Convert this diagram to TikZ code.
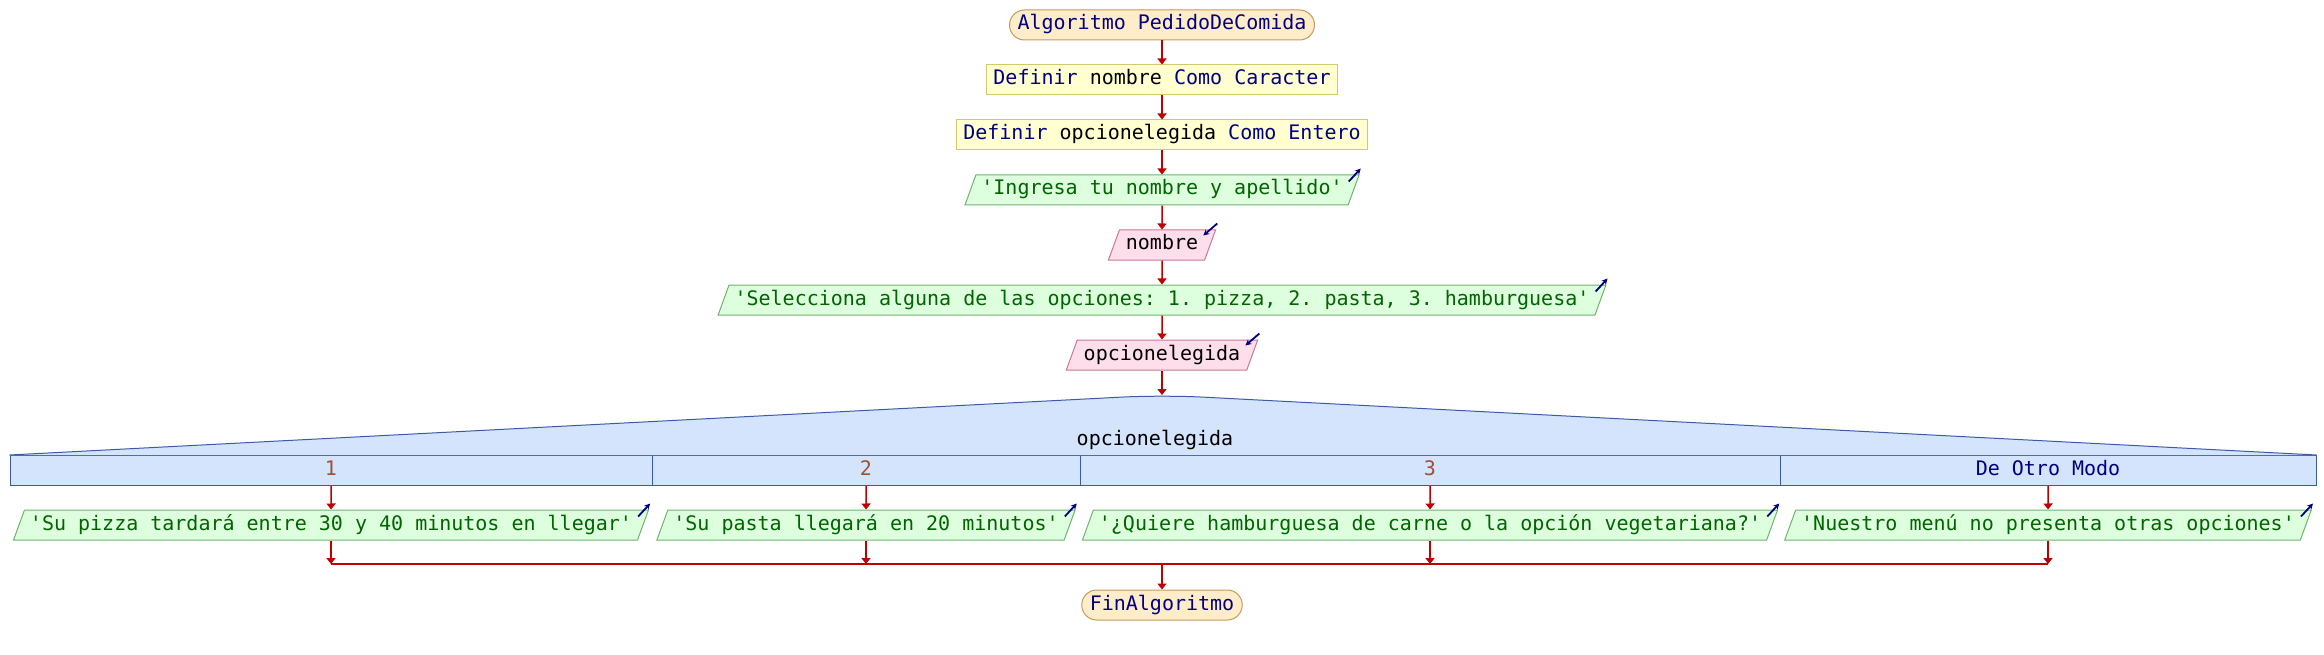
\documentclass[tikz,border=0pt]{standalone}
\usepackage{fontspec}
\setmonofont{DejaVu Sans Mono}
\usetikzlibrary{shapes.geometric,arrows.meta}
\definecolor{navy}{RGB}{0,0,128}
\definecolor{startfill}{RGB}{255,236,200}
\definecolor{startdraw}{RGB}{195,155,95}
\definecolor{deffill}{RGB}{255,255,208}
\definecolor{defdraw}{RGB}{210,200,110}
\definecolor{outfill}{RGB}{222,255,222}
\definecolor{outdraw}{RGB}{110,180,110}
\definecolor{outtext}{RGB}{0,100,0}
\definecolor{infill}{RGB}{255,222,236}
\definecolor{indraw}{RGB}{200,120,150}
\definecolor{casefill}{RGB}{212,228,252}
\definecolor{casedraw}{RGB}{60,90,170}
\definecolor{numtext}{RGB}{160,80,50}
\definecolor{flowred}{RGB}{190,0,0}
\begin{document}
\begin{tikzpicture}[x=1pt,y=-1pt,
    every node/.style={font=\ttfamily\fontsize{20}{24}\selectfont, text height=15pt, text depth=5pt, inner ysep=5pt, line width=1pt},
    startbox/.style={draw=startdraw, fill=startfill, rounded corners=15pt, inner xsep=8pt, text=navy},
    defbox/.style={draw=defdraw, fill=deffill, inner xsep=6.5pt},
    outbox/.style={trapezium, trapezium left angle=70, trapezium right angle=110, draw=outdraw, fill=outfill, text=outtext, inner xsep=5.5pt},
    inbox/.style={trapezium, trapezium left angle=70, trapezium right angle=110, draw=indraw, fill=infill, inner xsep=6.5pt},
    casecell/.style={draw=casedraw, fill=casefill, inner xsep=0pt},
    flow/.style={draw=flowred, line width=1.5pt, -{Triangle[length=6pt,width=9pt]}},
    icon/.style={draw=navy, line width=1.8pt, -{Stealth[length=6pt,width=6pt]}}]
    \useasboundingbox (0,0) rectangle (2324,655);
    \node[startbox] (inicio) at (1162,25) {Algoritmo PedidoDeComida};
    \node[defbox] (def-1) at (1162,80) {\textcolor{navy}{Definir} nombre \textcolor{navy}{Como Caracter}};
    \node[defbox] (def-2) at (1162,135) {\textcolor{navy}{Definir} opcionelegida \textcolor{navy}{Como Entero}};
    \node[outbox] (out-1) at (1162,190) {'Ingresa tu nombre y apellido'};
    \node[inbox] (in-1) at (1162,245) {nombre};
    \node[outbox] (out-2) at (1162,300) {'Selecciona alguna de las opciones: 1. pizza, 2. pasta, 3. hamburguesa'};
    \node[inbox] (in-2) at (1162,355) {opcionelegida};
    \coordinate (cima) at (1162,395);
    \node[casecell, minimum width=642pt] (caso-1) at (331,470.5) {\textcolor{numtext}{1}};
    \node[casecell, minimum width=428pt] (caso-2) at (866,470.5) {\textcolor{numtext}{2}};
    \node[casecell, minimum width=700pt] (caso-3) at (1430,470.5) {\textcolor{numtext}{3}};
    \node[casecell, minimum width=536pt] (caso-4) at (2048,470.5) {\textcolor{navy}{De Otro Modo}};
    \filldraw[draw=casedraw, fill=casefill, line width=1pt, rounded corners=40pt] (caso-1.north west) -- (cima) -- (caso-4.north east);
    \node (cond) at (1155,440) {opcionelegida};
    \node[outbox] (out-3) at (331,525) {'Su pizza tardará entre 30 y 40 minutos en llegar'};
    \node[outbox] (out-4) at (866,525) {'Su pasta llegará en 20 minutos'};
    \node[outbox] (out-5) at (1430,525) {'¿Quiere hamburguesa de carne o la opción vegetariana?'};
    \node[outbox] (out-6) at (2048,525) {'Nuestro menú no presenta otras opciones'};
    \coordinate (union-1) at (331,564);
    \coordinate (union-2) at (866,564);
    \coordinate (union-3) at (1430,564);
    \coordinate (union-4) at (2048,564);
    \coordinate (union) at (1162,564);
    \node[startbox] (fin) at (1162,605) {FinAlgoritmo};
    \draw[flow] (inicio) -- (def-1);
    \draw[flow] (def-1) -- (def-2);
    \draw[flow] (def-2) -- (out-1);
    \draw[flow] (out-1) -- (in-1);
    \draw[flow] (in-1) -- (out-2);
    \draw[flow] (out-2) -- (in-2);
    \draw[flow] (in-2) -- (cima);
    \draw[flow] (caso-1) -- (out-3);
    \draw[flow] (caso-2) -- (out-4);
    \draw[flow] (caso-3) -- (out-5);
    \draw[flow] (caso-4) -- (out-6);
    \draw[flow] (out-3) -- (union-1);
    \draw[flow] (out-4) -- (union-2);
    \draw[flow] (out-5) -- (union-3);
    \draw[flow] (out-6) -- (union-4);
    \draw[flowred, line width=2pt] (union-1) -- (union-4);
    \draw[flow] (union) -- (fin);
    \draw[icon] ([shift={(-11,7)}]out-1.top right corner) -- ++(12,-13);
    \draw[icon] ([shift={(-11,7)}]out-2.top right corner) -- ++(12,-13);
    \draw[icon] ([shift={(-11,7)}]out-3.top right corner) -- ++(12,-13);
    \draw[icon] ([shift={(-11,7)}]out-4.top right corner) -- ++(12,-13);
    \draw[icon] ([shift={(-11,7)}]out-5.top right corner) -- ++(12,-13);
    \draw[icon] ([shift={(-11,7)}]out-6.top right corner) -- ++(12,-13);
    \draw[icon] ([shift={(1,-6)}]in-1.top right corner) -- ++(-14,12);
    \draw[icon] ([shift={(1,-6)}]in-2.top right corner) -- ++(-14,12);
\end{tikzpicture}
\end{document}
